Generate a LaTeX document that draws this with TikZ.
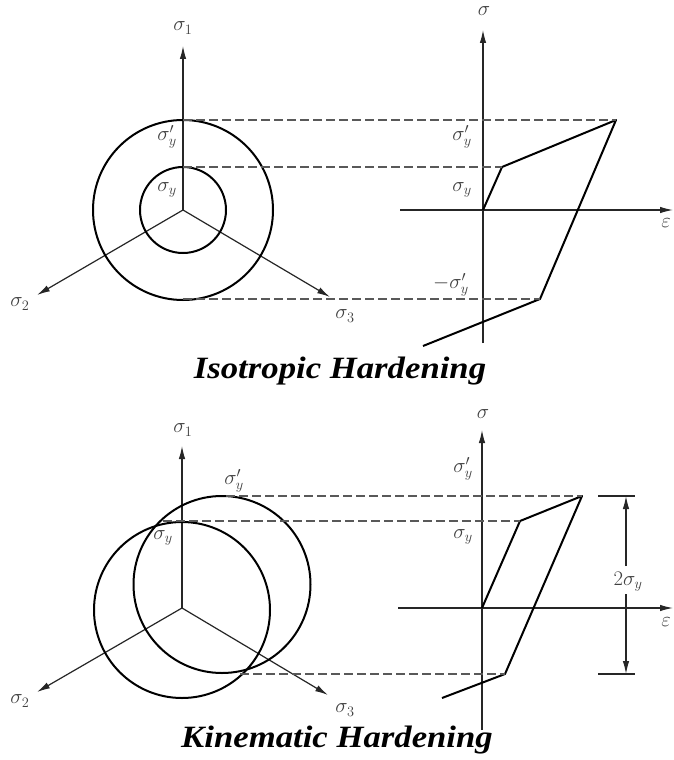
\documentclass[tikz,border=0pt]{standalone}
\usepackage{fontspec}
\setmainfont{Liberation Serif}
\usetikzlibrary{arrows.meta}
\begin{document}
\begin{tikzpicture}[x=1pt,y=-1pt,
  axisline/.style={line width=1.2pt, black!85, -{Latex[length=13pt,width=6.5pt]}},
  plainaxis/.style={line width=1.2pt, black!85},
  bold/.style={line width=2pt, black, line join=round},
  dashline/.style={line width=1.5pt, black!65, dash pattern=on 9pt off 4pt},
  lab/.style={font=\fontsize{22}{26}\selectfont, text=black!75, inner sep=0pt},
  ttl/.style={font=\fontsize{31}{36}\selectfont\bfseries\itshape, inner sep=0pt, xscale=1.12}]
\useasboundingbox[fill=white] (0,0) rectangle (673,760);

% ================= TOP PANEL =================
\coordinate (O1) at (183,210);
\coordinate (A1) at (183,46);
\coordinate (A2) at (37,295);
\coordinate (A3) at (330,297);
\draw[axisline] (O1) -- (A1);
\draw[axisline] (O1) -- (A2);
\draw[axisline] (O1) -- (A3);
\draw[bold] (O1) circle[radius=90];
\draw[bold] (O1) circle[radius=43];
\node[lab] (s1a) at (183,28) {$\sigma_1$};
\node[lab] (s2a) at (20,304) {$\sigma_2$};
\node[lab] (s3a) at (345,316) {$\sigma_3$};
\node[lab] (syp1) at (167,137) {$\sigma'_y$};
\node[lab] (sy1) at (167,190) {$\sigma_y$};

% right graph
\coordinate (E0) at (400,210);
\coordinate (E1) at (673,210);
\coordinate (Sb) at (483,343);
\coordinate (St) at (483,30);
\draw[axisline] (E0) -- (E1);
\draw[axisline] (Sb) -- (St);
\node[lab] (sg1) at (484,11) {$\sigma$};
\node[lab] (ep1) at (666,223) {$\varepsilon$};
\coordinate (P0) at (483,210);
\coordinate (P1) at (502,167);
\coordinate (P2) at (616,120);
\coordinate (P3) at (540,299);
\coordinate (P4) at (423,346);
\draw[bold] (P0) -- (P1) -- (P2) -- (P3) -- (P4);
\coordinate (D1a) at (183,120);
\coordinate (D2a) at (183,167);
\coordinate (D3a) at (183,299);
\draw[dashline] (D1a) -- (P2);
\draw[dashline] (D2a) -- (P1);
\draw[dashline] (D3a) -- (P3);
\node[lab] (syp1r) at (462,137) {$\sigma'_y$};
\node[lab] (sy1r) at (462,190) {$\sigma_y$};
\node[lab] (msy1r) at (451,285) {$-\sigma'_y$};
\node[ttl] (t1) at (340,371) {Isotropic Hardening};

% ================= BOTTOM PANEL =================
\coordinate (O2) at (182,608);
\coordinate (B1) at (182,446);
\coordinate (B2) at (37,692);
\coordinate (B3) at (328,695);
\draw[axisline] (O2) -- (B1);
\draw[axisline] (O2) -- (B2);
\draw[axisline] (O2) -- (B3);
\coordinate (C1) at (182,610);
\coordinate (C2) at (222,584.5);
\draw[bold] (C1) circle[radius=88];
\draw[bold] (C2) circle[radius=88.5];
\node[lab] (s1b) at (183,430) {$\sigma_1$};
\node[lab] (s2b) at (20,701) {$\sigma_2$};
\node[lab] (s3b) at (345,710) {$\sigma_3$};
\node[lab] (syp2) at (234,481) {$\sigma'_y$};
\node[lab] (sy2) at (163,538) {$\sigma_y$};

% right graph
\coordinate (F0) at (398,608);
\coordinate (F1) at (673,608);
\coordinate (Tb) at (482,730);
\coordinate (Tt) at (482,430);
\draw[axisline] (F0) -- (F1);
\draw[axisline] (Tb) -- (Tt);
\node[lab] (sg2) at (483,414) {$\sigma$};
\node[lab] (ep2) at (666,622) {$\varepsilon$};
\coordinate (Q0) at (482,608);
\coordinate (Q1) at (520,521);
\coordinate (Q2) at (582,496);
\coordinate (Q3) at (505,674);
\coordinate (Q4) at (442,698);
\draw[bold] (Q0) -- (Q1) -- (Q2) -- (Q3) -- (Q4);
\coordinate (G1) at (226,496);
\coordinate (G2) at (163,521);
\coordinate (G3) at (240,674);
\draw[dashline] (G1) -- (Q2);
\draw[dashline] (G2) -- (Q1);
\draw[dashline] (G3) -- (Q3);
\node[lab] (syp2r) at (463,469) {$\sigma'_y$};
\node[lab] (sy2r) at (463,537) {$\sigma_y$};

% 2 sigma_y dimension
\coordinate (K1a) at (598,496);
\coordinate (K1b) at (635,496);
\coordinate (K2a) at (598,674);
\coordinate (K2b) at (635,674);
\draw[plainaxis] (K1a) -- (K1b);
\draw[plainaxis] (K2a) -- (K2b);
\coordinate (M1) at (626,566);
\coordinate (M1t) at (626,496);
\coordinate (M2) at (626,594);
\coordinate (M2t) at (626,674);
\draw[axisline] (M1) -- (M1t);
\draw[axisline] (M2) -- (M2t);
\node[lab] (two) at (628,582) {$2\sigma_y$};
\node[ttl] (t2) at (337,740) {Kinematic Hardening};
\end{tikzpicture}
\end{document}
